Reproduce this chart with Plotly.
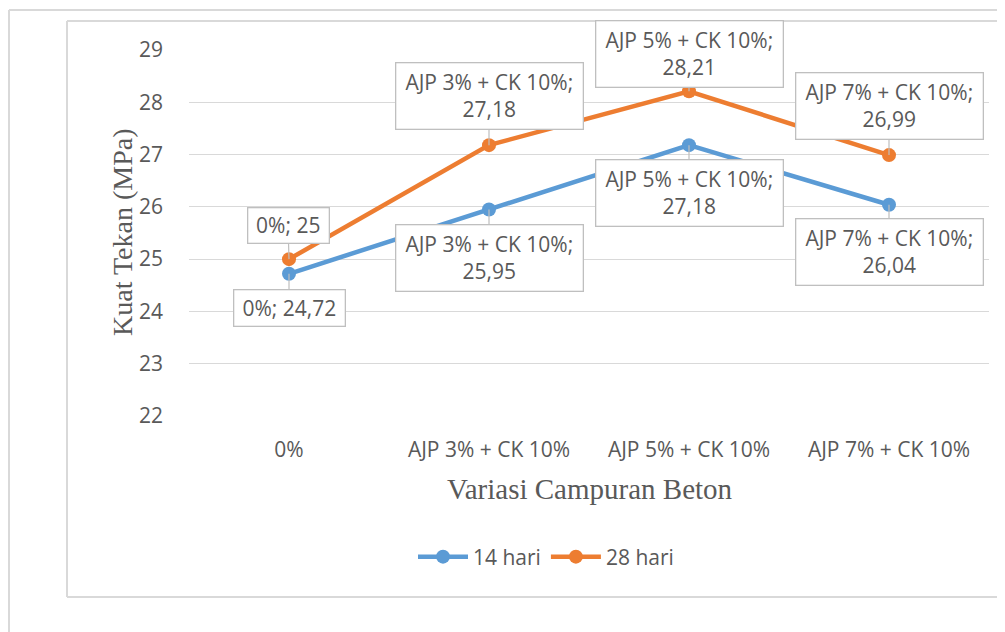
import plotly.graph_objects as go

categories = ["0%", "AJP 3% + CK 10%", "AJP 5% + CK 10%", "AJP 7% + CK 10%"]
hari14 = [24.72, 25.95, 27.18, 26.04]
hari28 = [25.00, 27.18, 28.21, 26.99]
series_names = ["14 hari", "28 hari"]
y_ticks = [22, 23, 24, 25, 26, 27, 28, 29]

BLUE = "#5B9BD5"
ORANGE = "#ED7D31"
GRID = "#D9D9D9"
TXT = "#595959"
FONT = "Open Sans"
FS = 21

OFF = 8  # page body margin
W, H = 1005 - OFF, 632 - OFF
# plot area in reference (screen) pixels
PX0, PX1, PY0, PY1 = 189, 989, 50, 416
L = PX0 - OFF
R = W - (PX1 - OFF)
T = PY0 - OFF
B = H - (PY1 - OFF)
PW = PX1 - PX0
PH = PY1 - PY0


def px(x):
    return (x - PX0) / PW


def py(y):
    return (PY1 - y) / PH


fig = go.Figure()
fig.add_trace(go.Scatter(x=categories, y=hari14, name=series_names[0], mode="lines+markers",
                         line=dict(color=BLUE, width=4.5), marker=dict(size=14, color=BLUE)))
fig.add_trace(go.Scatter(x=categories, y=hari28, name=series_names[1], mode="lines+markers",
                         line=dict(color=ORANGE, width=4.5), marker=dict(size=14, color=ORANGE)))


def fmt(v):
    s = ("%.2f" % v).rstrip("0").rstrip(".")
    return s.replace(".", ",")


# label box layout: (ax, ay, box width, box height)
layout14 = [(0, 34.5, 112, 37), (0, 48.5, 188, 67), (0, 47.5, 188, 67), (0, 47.5, 188, 67)]
layout28 = [(-1, -34, 82, 36), (0, -49.5, 188, 67), (0, -37.5, 188, 67), (0, -49.5, 188, 67)]

annotations = []
for vals, lays in ((hari14, layout14), (hari28, layout28)):
    for i, (c, v) in enumerate(zip(categories, vals)):
        ax, ay, bw, bh = lays[i]
        if i == 0:
            text = "%s; %s" % (c, fmt(v))
        else:
            text = "%s;<br>%s" % (c, fmt(v))
        annotations.append(dict(
            x=i, y=v, xref="x", yref="y", text=text, showarrow=True,
            ax=ax, ay=ay, axref="pixel", ayref="pixel",
            arrowhead=0, arrowwidth=1.2, arrowcolor="#BFBFBF", standoff=0,
            bgcolor="white", bordercolor="#BFBFBF", borderwidth=1.3, borderpad=2,
            width=bw - 6, height=bh - 6,
            font=dict(family=FONT, size=FS, color=TXT),
        ))

annotations.append(dict(text="Kuat Tekan (MPa)", xref="paper", yref="paper",
                        x=px(122), y=py(233), xanchor="center", yanchor="middle",
                        showarrow=False, textangle=-90,
                        font=dict(family="Liberation Serif", size=28, color=TXT)))
annotations.append(dict(text="Variasi Campuran Beton", xref="paper", yref="paper",
                        x=px(590), y=py(489), xanchor="center", yanchor="middle",
                        showarrow=False,
                        font=dict(family="Liberation Serif", size=29, color=TXT)))

shapes = [
    dict(type="line", xref="paper", yref="paper", x0=px(9), x1=px(9), y0=py(10), y1=py(640),
         line=dict(color=GRID, width=2)),
    dict(type="line", xref="paper", yref="paper", x0=px(9), x1=px(1010), y0=py(10), y1=py(10),
         line=dict(color=GRID, width=2)),
    dict(type="line", xref="paper", yref="paper", x0=px(67), x1=px(67), y0=py(21), y1=py(597),
         line=dict(color=GRID, width=2)),
    dict(type="line", xref="paper", yref="paper", x0=px(67), x1=px(1010), y0=py(21), y1=py(21),
         line=dict(color=GRID, width=2)),
    dict(type="line", xref="paper", yref="paper", x0=px(67), x1=px(1010), y0=py(597), y1=py(597),
         line=dict(color=GRID, width=2)),
]

fig.update_layout(
    width=W, height=H,
    margin=dict(l=L, r=R, t=T, b=B, pad=0),
    paper_bgcolor="white", plot_bgcolor="white",
    font=dict(family=FONT, size=FS, color=TXT),
    showlegend=True,
    legend=dict(orientation="h", x=px(546), y=py(557), xanchor="center", yanchor="middle",
                font=dict(family=FONT, size=FS, color=TXT), itemwidth=50),
    annotations=annotations,
    shapes=shapes,
    hovermode=False,
)
fig.update_xaxes(type="category", range=[-0.5, 3.5], showgrid=False, showline=False,
                 ticks="", ticklabelstandoff=19, tickfont=dict(family=FONT, size=FS, color=TXT))
fig.update_yaxes(range=[22, 29], tickvals=y_ticks, showgrid=True, gridcolor=GRID, gridwidth=1.3,
                 zeroline=False, showline=False, ticks="", ticklabelstandoff=25,
                 tickfont=dict(family=FONT, size=FS, color=TXT))

fig.write_html("out.html", config={"displayModeBar": False})
